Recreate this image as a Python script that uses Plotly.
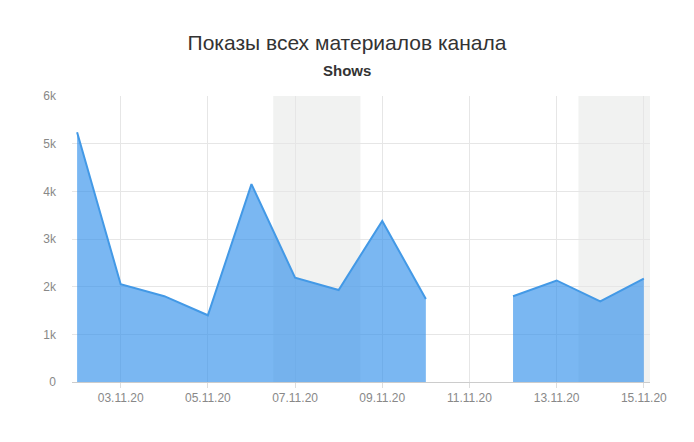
import pandas as pd
import plotly.graph_objects as go

# Daily shows, 02.11.20 - 15.11.20 (no data for 11.11)
dates = pd.date_range("2020-11-02", "2020-11-15", freq="D")
shows = [5240, 2050, 1800, 1400, 4150, 2190, 1930, 3380, 1740, None, 1800, 2130, 1690, 2170]

# weekends shaded on the chart
weekends = [("2020-11-07", "2020-11-08"), ("2020-11-14", "2020-11-15")]

tick_dates = pd.date_range("2020-11-03", "2020-11-15", freq="2D")
y_ticks = [0, 1000, 2000, 3000, 4000, 5000, 6000]
y_labels = ["0", "1k", "2k", "3k", "4k", "5k", "6k"]

# page body has an 8px margin, so everything is laid out 8px up/left
W, H = 694, 442
L, R, T, B = 64, 52, 88, 68

fig = go.Figure()

# split at the missing day so the area breaks there
segments = []
current = []
for d, v in zip(dates, shows):
    if v is None:
        if current:
            segments.append(current)
        current = []
    else:
        current.append((d, v))
if current:
    segments.append(current)

for seg in segments:
    fig.add_trace(go.Scatter(
        x=[d for d, _ in seg],
        y=[v for _, v in seg],
        mode="lines",
        fill="tozeroy",
        fillcolor="rgba(47,142,235,0.64)",
        line=dict(color="#4399e6", width=2),
        name="Shows",
        hoverinfo="x+y",
    ))

# Grey bands for weekends (half a day either side)
half_day = pd.Timedelta(hours=12)
for start, end in weekends:
    fig.add_shape(
        type="rect",
        xref="x", yref="paper",
        x0=pd.Timestamp(start) - half_day,
        x1=pd.Timestamp(end) + half_day,
        y0=0, y1=1,
        fillcolor="#f1f2f1",
        line=dict(width=0),
        layer="below",
    )

# subtitle, placed in paper coords
plot_w = W - L - R
plot_h = H - T - B
fig.add_annotation(
    text="<b>Shows</b>",
    x=(339 - L) / plot_w,
    y=(H - B - 62) / plot_h,
    xref="paper", yref="paper",
    xanchor="center", yanchor="middle",
    showarrow=False,
    font=dict(size=15, color="#333333"),
)

x_start = pd.Timestamp("2020-11-02") - pd.Timedelta(hours=2.8)
x_end = pd.Timestamp("2020-11-15") + pd.Timedelta(hours=3.4)

fig.update_layout(
    width=W,
    height=H,
    margin=dict(l=L, r=R, t=T, b=B),
    plot_bgcolor="white",
    paper_bgcolor="white",
    showlegend=False,
    font=dict(family="Liberation Sans, Arial, sans-serif", color="#888888", size=12),
    title=dict(
        text="Показы всех материалов канала",
        x=339 / W, xref="container", xanchor="center",
        y=1 - 35 / H, yref="container", yanchor="middle",
        font=dict(size=21, color="#333333"),
    ),
    xaxis=dict(
        type="date",
        range=[x_start, x_end],
        tickvals=tick_dates,
        ticktext=[d.strftime("%d.%m.%y") for d in tick_dates],
        showgrid=True,
        gridcolor="#e6e6e6",
        gridwidth=1,
        showline=True,
        linecolor="#cccccc",
        ticks="outside",
        ticklen=5,
        tickcolor="#dddddd",
        zeroline=False,
    ),
    yaxis=dict(
        range=[0, 6000],
        tickvals=y_ticks,
        ticktext=y_labels,
        showgrid=True,
        gridcolor="#e6e6e6",
        gridwidth=1,
        zeroline=False,
        showline=False,
        ticklabelstandoff=15,
    ),
)

fig.write_html("out.html")
